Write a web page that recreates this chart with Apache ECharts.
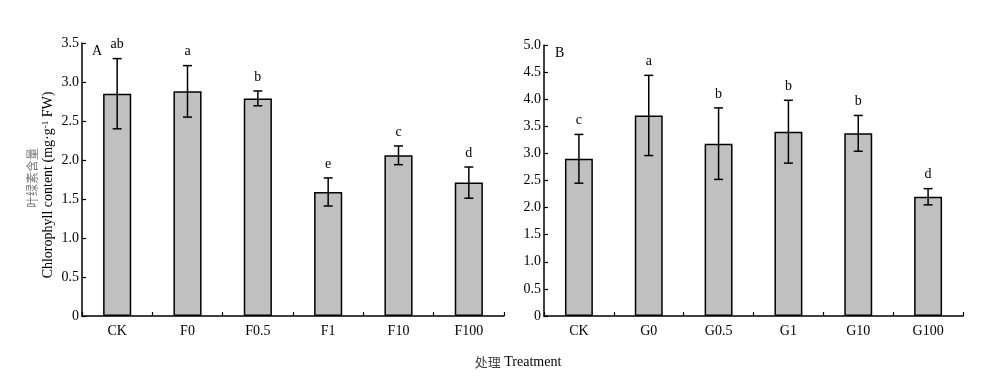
<!DOCTYPE html>
<html><head><meta charset="utf-8">
<script src="https://cdn.jsdelivr.net/npm/echarts@6/dist/echarts.min.js"></script>
<style>html,body{margin:0;padding:0;background:#fff}#c{width:986px;height:387px}</style>
</head><body><div id="c"></div>
<script>
const catsA = ['CK','F0','F0.5','F1','F10','F100'];
const meanA = [2.85,2.88,2.79,1.59,2.06,1.71];
const errA  = [0.45,0.33,0.095,0.18,0.12,0.20];
const sigA  = ['ab','a','b','e','c','d'];
const catsB = ['CK','G0','G0.5','G1','G10','G100'];
const meanB = [2.90,3.70,3.18,3.40,3.37,2.20];
const errB  = [0.45,0.74,0.66,0.58,0.33,0.15];
const sigB  = ['c','a','b','b','b','d'];
const ticksA = {min:0, max:3.5, interval:0.5};
const ticksB = {min:0, max:5.0, interval:0.5};

const SERIF = '"Liberation Serif","DejaVu Serif",serif';
const CJK = '"Noto Sans CJK SC",sans-serif';

function errRender(sig){
  return function(params, api){
    const x = api.value(0), m = api.value(1), e = api.value(2);
    const t = api.coord([x, m+e]), b = api.coord([x, m-e]);
    const hw = 4.5;
    const st = {stroke:'#000', lineWidth:1.5};
    return {type:'group', children:[
      {type:'line', shape:{x1:t[0],y1:t[1],x2:b[0],y2:b[1]}, style:st},
      {type:'line', shape:{x1:t[0]-hw,y1:t[1],x2:t[0]+hw,y2:t[1]}, style:st},
      {type:'line', shape:{x1:b[0]-hw,y1:b[1],x2:b[0]+hw,y2:b[1]}, style:st},
      {type:'text', x:t[0], y:t[1]-7, style:{text:sig[params.dataIndex], align:'center', verticalAlign:'bottom', font:'14px '+SERIF, fill:'#000'}}
    ]};
  };
}

function yAx(idx, t){
  return {type:'value', gridIndex:idx, min:t.min, max:t.max, interval:t.interval,
    axisLine:{show:true, lineStyle:{color:'#000', width:1.5}},
    axisTick:{show:true, inside:true, length:4, lineStyle:{color:'#000', width:1.2}},
    splitLine:{show:false},
    axisLabel:{color:'#000', fontFamily:SERIF, fontSize:14, margin:3,
      formatter:v=> v===0 ? '0' : v.toFixed(1)}};
}
function xAx(idx, cats){
  return {type:'category', gridIndex:idx, data:cats,
    axisLine:{show:true, lineStyle:{color:'#000', width:1.5}},
    axisTick:{show:true, inside:true, length:4, lineStyle:{color:'#000', width:1.2}},
    axisLabel:{color:'#000', fontFamily:SERIF, fontSize:14, margin:8}};
}

const chart = echarts.init(document.getElementById('c'), null, {renderer:'canvas'});
chart.setOption({
  animation:false,
  grid:[
    {left:82, top:43, right:482, bottom:71},
    {left:544, top:45, right:23, bottom:71}
  ],
  xAxis:[xAx(0,catsA), xAx(1,catsB)],
  yAxis:[yAx(0,ticksA), yAx(1,ticksB)],
  series:[
    {type:'bar', xAxisIndex:0, yAxisIndex:0, data:meanA, barWidth:'40%',
      itemStyle:{color:'#c0c0c0', borderColor:'#000', borderWidth:1.5}},
    {type:'custom', xAxisIndex:0, yAxisIndex:0, z:5,
      data:meanA.map((m,i)=>[i,m,errA[i]]), renderItem:errRender(sigA)},
    {type:'bar', xAxisIndex:1, yAxisIndex:1, data:meanB, barWidth:'40%',
      itemStyle:{color:'#c0c0c0', borderColor:'#000', borderWidth:1.5}},
    {type:'custom', xAxisIndex:1, yAxisIndex:1, z:5,
      data:meanB.map((m,i)=>[i,m,errB[i]]), renderItem:errRender(sigB)}
  ],
  graphic:[
    {type:'text', left:92, top:44, style:{text:'A', font:'14px '+SERIF, fill:'#000'}},
    {type:'text', left:555, top:46, style:{text:'B', font:'14px '+SERIF, fill:'#000'}},
    {type:'text', x:32, y:178, rotation:Math.PI/2,
      style:{text:'叶绿素含量', font:'12px '+CJK, fill:'#777', align:'center', verticalAlign:'middle'}},
    {type:'text', x:48, y:185, rotation:Math.PI/2,
      style:{text:'Chlorophyll content (mg·g{sup|-1} FW)', font:'14px '+SERIF, fill:'#000', align:'center', verticalAlign:'middle',
        rich:{sup:{fontSize:9, fontFamily:SERIF, verticalAlign:'top', fill:'#000'}}}},
    {type:'text', x:518, y:362,
      style:{text:'{cn|处理} Treatment', font:'14px '+SERIF, fill:'#000', align:'center', verticalAlign:'middle',
        rich:{cn:{fontSize:13, fontFamily:CJK, fill:'#444'}}}}
  ]
});
</script></body></html>
